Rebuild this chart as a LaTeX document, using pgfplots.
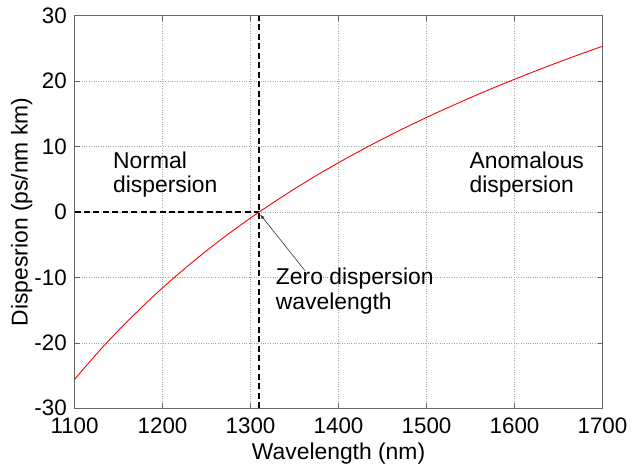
\documentclass[border=0pt]{standalone}
\usepackage{pgfplots}
\pgfplotsset{compat=1.18}
\usepackage{fontspec}
\setmainfont{Liberation Sans}
\begin{document}
\fontsize{23pt}{25pt}\selectfont
\begin{tikzpicture}
\begin{axis}[
  scale only axis,
  width=531pt, height=395pt,
  xmin=1100, xmax=1700, ymin=-30, ymax=30,
  xtick={1100,1200,...,1700}, ytick={-30,-20,...,30},
  /pgf/number format/assume math mode=true,
  /pgf/number format/set thousands separator={},
  tick label style={font=\fontsize{22.5pt}{25pt}\selectfont},
  label style={font=\fontsize{23pt}{25pt}\selectfont},
  xticklabel style={yshift=-2pt},
  grid=major,
  major grid style={dotted, gray!70},
  axis line style={gray!80!black},
  tick style={gray!80!black},
  tick align=inside,
  major tick length=5pt,
  xlabel={Wavelength (nm)},
  ylabel={Dispesrion (ps/nm km)},
  xlabel style={at={(axis description cs:0.5,-0.115)}, anchor=center},
  ylabel style={at={(axis description cs:-0.1,0.5)}, anchor=center, rotate=0},
  clip=false,
]
\addplot[black, dash pattern=on 6pt off 3.5pt, line width=1.7pt] coordinates {(1310,-30) (1310,30)};
\addplot[black, dash pattern=on 6pt off 3.5pt, line width=1.5pt] coordinates {(1100,0) (1310,0)};
\addplot[red, line width=0.9pt, smooth] coordinates {
(1100,-25.59) (1125,-21.7) (1150,-18.09) (1175,-14.75) (1200,-11.60) (1225,-8.68)
(1250,-5.93) (1275,-3.35) (1300,-0.93) (1310,0) (1325,1.35) (1350,3.52) (1375,5.57)
(1400,7.52) (1425,9.37) (1450,11.13) (1475,12.82) (1500,14.43) (1525,15.97)
(1550,17.46) (1575,18.89) (1600,20.26) (1625,21.59) (1650,22.87) (1675,24.11) (1700,25.31)};
\node[anchor=west, align=left, font=\fontsize{23pt}{25pt}\selectfont] at (axis cs:1135,5.7) {Normal\\dispersion};
\node[anchor=west, align=left, font=\fontsize{23pt}{25pt}\selectfont] at (axis cs:1540,5.7) {Anomalous\\dispersion};
\node[anchor=west, align=left, font=\fontsize{23pt}{25pt}\selectfont] at (axis cs:1320,-12.1) {Zero dispersion\\wavelength};
\draw[-latex, gray!40!black, line width=0.6pt] (axis cs:1362,-9) -- (axis cs:1311,-0.4);
\path (rel axis cs:0,0) ++(-75pt,-56pt) coordinate (bl);
\path (rel axis cs:1,1) ++(29pt,15pt) coordinate (tr);
\end{axis}
\useasboundingbox (bl) rectangle (tr);
\end{tikzpicture}
\end{document}
